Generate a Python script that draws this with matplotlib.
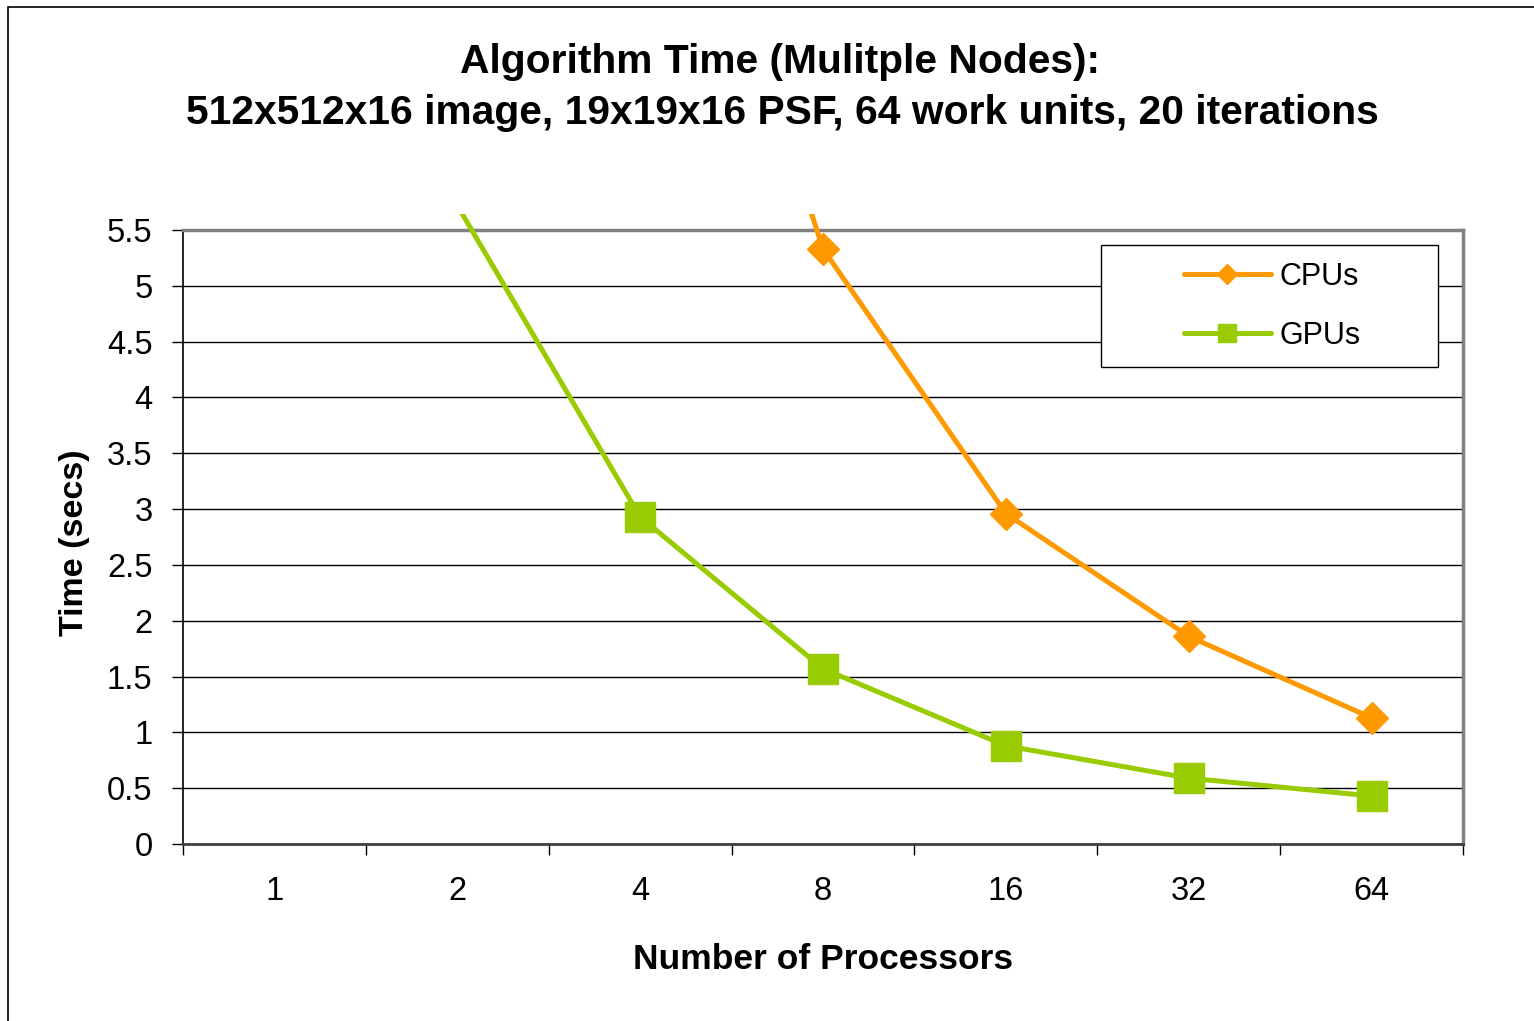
import numpy as np
import matplotlib
matplotlib.use("Agg")
import matplotlib.pyplot as plt
from matplotlib.patches import Rectangle

plt.rcParams['font.family'] = ['Liberation Sans', 'DejaVu Sans']

# ---- data ----
categories = ["1", "2", "4", "8", "16", "32", "64"]
cpu_times = [41.0, 20.8, 10.4, 5.33, 2.96, 1.86, 1.13]
gpu_times = [11.2, 5.72, 2.93, 1.57, 0.88, 0.59, 0.43]
y_ticks = [0, 0.5, 1, 1.5, 2, 2.5, 3, 3.5, 4, 4.5, 5, 5.5]
y_tick_labels = ["0", "0.5", "1", "1.5", "2", "2.5", "3", "3.5", "4", "4.5", "5", "5.5"]
title_line1 = "Algorithm Time (Mulitple Nodes):"
title_line2 = "512x512x16 image, 19x19x16 PSF, 64 work units, 20 iterations"
x_label = "Number of Processors"
y_label = "Time (secs)"
series_names = ["CPUs", "GPUs"]

CPU_COLOR = "#FF9900"
GPU_COLOR = "#99CC00"

W, H = 1534, 1021
fig = plt.figure(figsize=(W / 100, H / 100), dpi=100)

# chart-area border (cropped at right/bottom)
fig.patches.append(Rectangle((8 / W, -0.05), 1.1, 1 - 7 / H + 0.05,
                             transform=fig.transFigure, fill=False,
                             edgecolor="#000000", linewidth=1.2))

ax = fig.add_axes([183 / W, 1 - 844 / H, (1463 - 183) / W, (844 - 230) / H])
x = np.arange(len(categories))

ax.set_xlim(-0.5, len(categories) - 0.5)
ax.set_ylim(0, 5.5)

# gridlines
ax.set_yticks(y_ticks)
ax.set_yticklabels(y_tick_labels)
ax.yaxis.grid(True, color="black", linewidth=1.0)
ax.set_axisbelow(True)

# extended clip box for lines (Excel draws slightly beyond plot top)
clip_rect = Rectangle((0, 0), 1, 1 + 16 / 614, transform=ax.transAxes,
                      facecolor="none", edgecolor="none")
ax.add_patch(clip_rect)

l1, = ax.plot(x, cpu_times, color=CPU_COLOR, linewidth=3.6, solid_capstyle="round", zorder=3)
l1.set_clip_path(clip_rect)
l2, = ax.plot(x, gpu_times, color=GPU_COLOR, linewidth=3.6, solid_capstyle="round", zorder=3)
l2.set_clip_path(clip_rect)

ax.plot(x, cpu_times, linestyle="none", marker="D", markersize=16.5,
        color=CPU_COLOR, zorder=4)
ax.plot(x, gpu_times, linestyle="none", marker="s", markersize=21.5,
        color=GPU_COLOR, zorder=4)

# legend handles
h1, = ax.plot([], [], color=CPU_COLOR, linewidth=3.6, marker="D", markersize=10.5,
              solid_capstyle="round")
h2, = ax.plot([], [], color=GPU_COLOR, linewidth=3.6, marker="s", markersize=13.5,
              solid_capstyle="round")
ax.add_patch(Rectangle((0.717, 0.7769), 0.2635, 0.9756 - 0.7769,
                       transform=ax.transAxes, fill=True, facecolor="white",
                       edgecolor="black", linewidth=1.0, zorder=5))
leg = ax.legend([h1, h2], series_names, loc="upper left",
                bbox_to_anchor=(0.717 + 66 / 1280, 0.9756),
                frameon=False, fontsize=22, handlelength=2.85,
                handletextpad=0.28, labelspacing=0.95, borderpad=0.55,
                borderaxespad=0)
leg.set_zorder(6)

# x ticks at category boundaries, labels at centers
ax.set_xticks(np.arange(-0.5, len(categories), 1.0))
ax.set_xticklabels([])
ax.set_xticks(x, minor=True)
ax.set_xticklabels(categories, minor=True)
ax.tick_params(axis="x", which="major", length=8, width=1, color="black", direction="out")
ax.tick_params(axis="x", which="minor", length=0, labelsize=23.5, pad=23)
ax.tick_params(axis="y", length=8, width=1, color="black", direction="out",
               labelsize=23.5, pad=14)

for s in ["top", "right"]:
    ax.spines[s].set_color("#808080")
    ax.spines[s].set_linewidth(2.5)
ax.spines["left"].set_color("black")
ax.spines["left"].set_linewidth(1.2)
ax.spines["bottom"].set_color("#404040")
ax.spines["bottom"].set_linewidth(2.0)

ax.set_xlabel(x_label, fontsize=25.5, fontweight="bold", labelpad=26)
ax.set_ylabel(y_label, fontsize=24.5, fontweight="bold")
ax.yaxis.set_label_coords(-0.073, 0.49)

fig.text(780 / W, 1 - 62 / H, title_line1, ha="center", va="center",
         fontsize=29.3, fontweight="bold")
fig.text(782 / W, 1 - 113 / H, title_line2, ha="center", va="center",
         fontsize=29.3, fontweight="bold")

fig.savefig("out.png", dpi=100)
